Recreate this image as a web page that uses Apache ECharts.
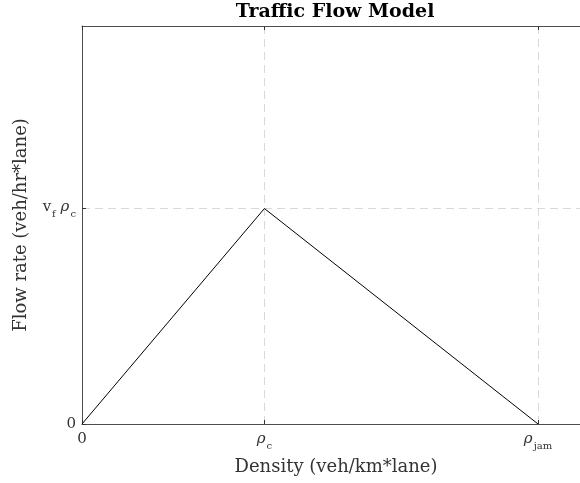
<!DOCTYPE html>
<html><head><meta charset="utf-8">
<script src="https://cdn.jsdelivr.net/npm/echarts@6/dist/echarts.min.js"></script>
<style>html,body{margin:0;padding:0;background:#fff}#c{width:580px;height:483px}</style>
</head><body><div id="c"></div>
<script>
// Data (normalized units: rho_c = 1, v_f*rho_c = 1)
const densities = [0, 1, 2.5];
const flows = [0, 1, 0];
const xTickValues = [0, 1, 2.5];
const xTickLabels = ['0', '{r|ρ}{s|c}', '{r|ρ}{s|jam}'];
const yTickValues = [0, 1];
const yTickLabels = ['0', '{v|v}{s|f}{r| ρ}{s|c}'];
const xMax = 2.73;
const yMax = 1.847;

const serif = 'DejaVu Serif';
const rich = {
  r: {fontFamily: serif, fontSize: 15, fontStyle: 'italic', color: '#333', lineHeight: 17, verticalAlign: 'top'},
  v: {fontFamily: serif, fontSize: 15, color: '#333', lineHeight: 17, verticalAlign: 'top'},
  s: {fontFamily: serif, fontSize: 10, color: '#333', lineHeight: 10, padding: [9, 0, 0, 1], verticalAlign: 'top'}
};
function lab(values, labels) {
  return function (v) {
    for (let i = 0; i < values.length; i++) if (Math.abs(values[i] - v) < 1e-6) return labels[i];
    return '';
  };
}
const chart = echarts.init(document.getElementById('c'), null, {renderer: 'canvas'});
const axisLine = {show: true, lineStyle: {color: '#4d4d4d', width: 1}};
const split = {show: true, lineStyle: {color: '#d9d9d9', type: [8, 5], width: 1}};
chart.setOption({
  animation: false,
  graphic: [{
    type: 'text', x: 335, y: 12,
    style: {text: 'Traffic Flow Model', font: 'bold 19px "DejaVu Serif"', fill: '#000', align: 'center', verticalAlign: 'middle'}
  }],
  grid: {left: 82, top: 26, right: 0, bottom: 59, containLabel: false},
  xAxis: [{
    type: 'value', min: 0, max: xMax, position: 'bottom',
    name: 'Density (veh/km*lane)', nameLocation: 'middle', nameGap: 34,
    nameTextStyle: {fontFamily: serif, fontSize: 18, color: '#333', padding: [0, 0, 0, 10]},
    axisLine: axisLine,
    axisTick: {show: true, inside: true, length: 4, customValues: xTickValues, lineStyle: {color: '#333'}},
    axisLabel: {show: true, customValues: xTickValues, formatter: lab(xTickValues, xTickLabels), rich: rich,
      fontFamily: serif, fontSize: 15, color: '#333', margin: 8, hideOverlap: false, showMinLabel: true},
    splitLine: split
  }, {
    type: 'value', min: 0, max: xMax, position: 'top',
    axisLine: axisLine,
    axisTick: {show: true, inside: true, length: 4, customValues: xTickValues, lineStyle: {color: '#333'}},
    axisLabel: {show: false},
    splitLine: {show: false}
  }],
  yAxis: [{
    type: 'value', min: 0, max: yMax, position: 'left',
    name: 'Flow rate (veh/hr*lane)', nameLocation: 'middle', nameGap: 52, nameRotate: 90,
    nameTextStyle: {fontFamily: serif, fontSize: 18, color: '#333'},
    axisLine: axisLine,
    axisTick: {show: true, inside: true, length: 4, customValues: yTickValues, lineStyle: {color: '#333'}},
    axisLabel: {show: true, customValues: yTickValues, formatter: lab(yTickValues, yTickLabels), rich: rich,
      fontFamily: serif, fontSize: 15, color: '#333', margin: 6, showMinLabel: true},
    splitLine: split
  }],
  series: [{
    type: 'line', xAxisIndex: 0, yAxisIndex: 0,
    data: densities.map((d, i) => [d, flows[i]]),
    showSymbol: false, symbol: 'none',
    lineStyle: {color: '#000', width: 1},
    z: 5
  }]
});
</script></body></html>
